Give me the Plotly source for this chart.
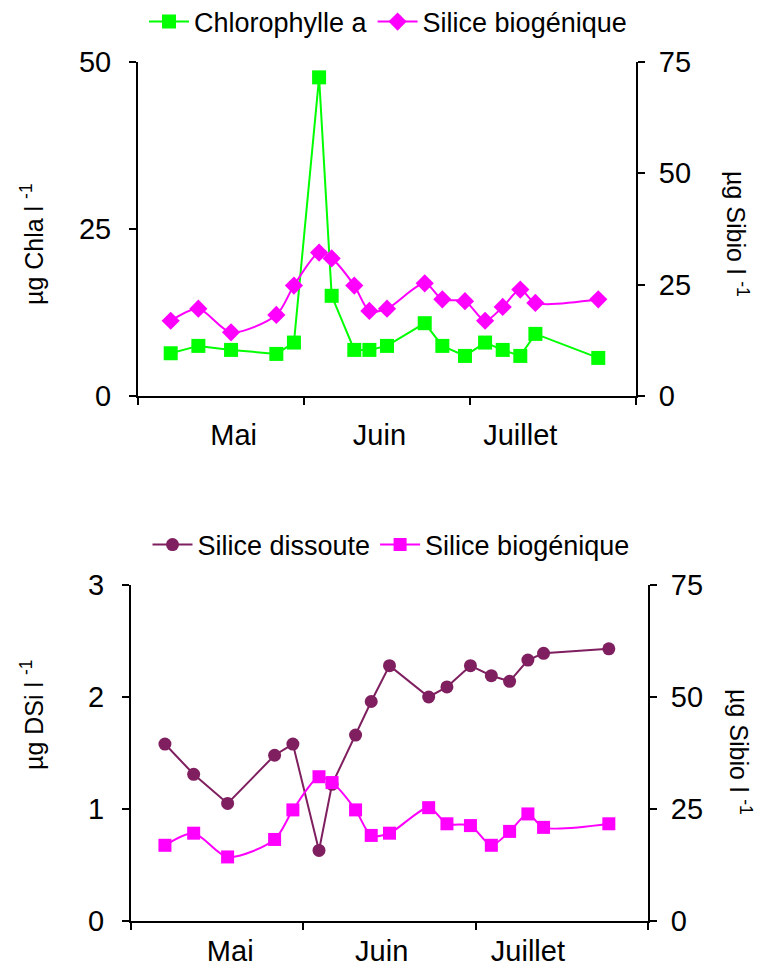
import plotly.graph_objects as go

# ---- data ----
jours = [6.5, 12, 18.5, 27.5, 31, 36, 38.5, 43, 46, 49.5, 57, 60.5, 65, 69, 72.5, 76, 79, 91.5]
chla = [6.4, 7.5, 6.9, 6.3, 8.0, 47.7, 15.0, 6.9, 6.9, 7.5, 10.9, 7.5, 6.0, 8.0, 6.9, 6.0, 9.3, 5.7]
sibio = [16.9, 19.6, 14.3, 18.2, 24.8, 32.2, 30.9, 24.8, 19.1, 19.6, 25.3, 21.7, 21.3, 16.9, 20.0, 23.9, 20.9, 21.7]
dsi = [1.58, 1.31, 1.05, 1.48, 1.58, 0.63, 1.22, 1.66, 1.96, 2.28, 2.0, 2.09, 2.28, 2.19, 2.14, 2.33, 2.39, 2.43]
mois = ["Mai", "Juin", "Juillet"]
mois_pos = [19, 48, 76]
limites_mois = [0, 33, 66, 99]

FONT = "Liberation Sans, Arial, sans-serif"
GREEN = "#00FF00"
MAGENTA = "#FF00FF"
PLUM = "#7F1F5F"

W, H = 773, 967
MT, MB = 40, 40
PH = H - MT - MB


def py(ypx):
    """pixel row -> paper fraction of plot area"""
    return (H - MB - ypx) / PH


def px(xpx):
    return xpx / W


fig = go.Figure()

# top chart
fig.add_trace(go.Scatter(x=jours, y=chla, name="Chlorophylle a", mode="lines+markers",
                         line=dict(color=GREEN, width=2),
                         marker=dict(symbol="square", size=14, color=GREEN),
                         xaxis="x", yaxis="y", legend="legend"))
fig.add_trace(go.Scatter(x=jours, y=sibio, name="Silice biogénique", mode="lines+markers",
                         line=dict(color=MAGENTA, width=2, shape="spline", smoothing=0.8),
                         marker=dict(symbol="diamond", size=14, color=MAGENTA),
                         xaxis="x", yaxis="y2", legend="legend"))
# bottom chart
fig.add_trace(go.Scatter(x=jours, y=dsi, name="Silice dissoute", mode="lines+markers",
                         line=dict(color=PLUM, width=2),
                         marker=dict(symbol="circle", size=13, color=PLUM),
                         xaxis="x2", yaxis="y3", legend="legend2"))
fig.add_trace(go.Scatter(x=jours, y=sibio, name="Silice biogénique", mode="lines+markers",
                         line=dict(color=MAGENTA, width=2, shape="spline", smoothing=0.8),
                         marker=dict(symbol="square", size=13, color=MAGENTA),
                         xaxis="x2", yaxis="y4", legend="legend2"))

tickfont = dict(family=FONT, size=29, color="black")


def xax(domain, anchor, standoff):
    return dict(domain=domain, anchor=anchor, range=[0, 99], showline=True, linecolor="black",
                linewidth=2, showgrid=False, zeroline=False, tickmode="array",
                tickvals=mois_pos, ticktext=mois, ticks="", tickfont=tickfont,
                ticklabelstandoff=standoff, automargin=False,
                minor=dict(tickmode="array", tickvals=limites_mois, ticks="outside",
                           ticklen=7, tickwidth=2, tickcolor="black", showgrid=False))


def yax(domain, anchor, rng, vals, side="left", overlaying=None):
    d = dict(domain=domain, anchor=anchor, range=rng, tickvals=vals, showline=True,
             linecolor="black", linewidth=2, showgrid=False, zeroline=False,
             ticks="outside", ticklen=7, tickwidth=2, tickcolor="black",
             tickfont=tickfont, side=side, automargin=False,
             ticklabelstandoff=12 if side == "left" else 8)
    if overlaying:
        d["overlaying"] = overlaying
    return d


top_x = [px(138), px(636)]
top_y = [py(396), py(62)]
bot_x = [px(131), px(648)]
bot_y = [py(921), py(585)]

legfont = dict(family=FONT, size=27, color="black")
titlefont = dict(family=FONT, size=25, color="black")


def titre(text, xpx, ypx, angle):
    return dict(text=text, x=px(xpx), y=py(ypx), xref="paper", yref="paper",
                xanchor="center", yanchor="middle", textangle=angle,
                showarrow=False, font=titlefont)


fig.update_layout(
    width=W, height=H,
    margin=dict(l=0, r=0, t=MT, b=MB, autoexpand=False),
    paper_bgcolor="white", plot_bgcolor="white",
    font=dict(family=FONT, color="black"),
    showlegend=True,
    xaxis=xax(top_x, "y", 12),
    yaxis=yax(top_y, "x", [0, 50], [0, 25, 50]),
    yaxis2=yax(top_y, "x", [0, 75], [0, 25, 50, 75], side="right", overlaying="y"),
    xaxis2=xax(bot_x, "y3", 3),
    yaxis3=yax(bot_y, "x2", [0, 3], [0, 1, 2, 3]),
    yaxis4=yax(bot_y, "x2", [0, 75], [0, 25, 50, 75], side="right", overlaying="y3"),
    legend=dict(orientation="h", x=px(388), xanchor="center", y=py(22), yanchor="middle",
                font=legfont, bgcolor="rgba(0,0,0,0)", itemwidth=40),
    legend2=dict(orientation="h", x=px(391), xanchor="center", y=py(545), yanchor="middle",
                 font=legfont, bgcolor="rgba(0,0,0,0)", itemwidth=40),
    annotations=[
        titre("µg Chla l <sup>-1</sup>", 32, 244, -90),
        titre("µg Sibio l <sup>-1</sup>", 737, 234, 90),
        titre("µg DSi l <sup>-1</sup>", 32, 715, -90),
        titre("µg Sibio l <sup>-1</sup>", 740, 752, 90),
    ],
)

fig.write_html("out.html")
